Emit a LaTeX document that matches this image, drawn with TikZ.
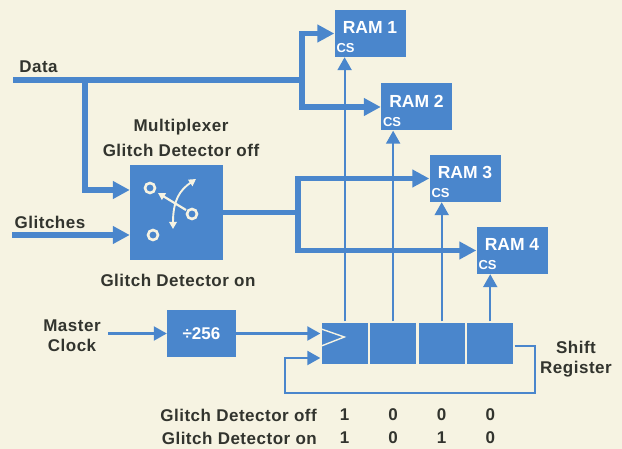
\documentclass[tikz,border=0pt]{standalone}
\usepackage{fontspec}
\setmainfont{Liberation Sans}
\usetikzlibrary{arrows.meta,positioning,calc}

\definecolor{hpblue}{RGB}{74,134,204}
\definecolor{paper}{RGB}{246,243,226}
\definecolor{ink}{RGB}{50,52,46}

\begin{document}
\begin{tikzpicture}[
    x=1pt,
    y=-1pt,
    blk/.style={fill=hpblue, inner sep=0pt},
    ram/.style={blk, minimum width=71pt, minimum height=47pt},
    cell/.style={blk, draw=paper, line width=1.3pt, minimum width=47.25pt, minimum height=43pt},
    bus/.style={hpblue, line width=5.5pt},
    busarrow/.style={bus, -{Triangle[length=17pt,width=17pt]}},
    wire/.style={hpblue, line width=2.2pt, -{Triangle[length=13pt,width=14pt]}},
    lbl/.style={text=ink, inner sep=0pt, font=\bfseries\fontsize{17}{20}\selectfont\addfontfeatures{LetterSpace=3}},
    ramtxt/.style={text=white, inner sep=0pt, font=\bfseries\fontsize{17.5}{20}\selectfont},
    cstxt/.style={text=white, inner sep=0pt, font=\bfseries\fontsize{13}{14}\selectfont},
    icon/.style={paper, line width=2.6pt}
]
\fill[paper] (0,0) rectangle (622,449);
\useasboundingbox (0,0) rectangle (622,449);

% RAM banks
\foreach \i/\cx/\cy in {1/370/33.5, 2/416.5/107, 3/465/178.5, 4/512/250.5}{
  \node[ram] (ram\i) at (\cx,\cy) {};
  \node[ramtxt] (ramt\i) at ([yshift=6pt]ram\i.center) {RAM \i};
  \node[cstxt, anchor=south west] (ramcs\i) at ([shift={(2pt,4pt)}]ram\i.south west) {CS};
}

% multiplexer and divider
\node[blk, minimum width=93pt, minimum height=95pt] (mux) at (176.5,212.5) {};
\node[blk, minimum width=69pt, minimum height=47pt, text=white,
      font=\bfseries\fontsize{17}{20}\selectfont] (div) at (201.5,333.5) {÷256};

% shift register
\node[cell] (c1) at (344.6,343.5) {};
\node[cell, right=0pt of c1] (c2) {};
\node[cell, right=0pt of c2] (c3) {};
\node[cell, right=0pt of c3] (c4) {};
\draw[paper, line width=1.4pt] (c1.west) ++(1,-14.5) -- ++(23,8) -- ++(-23,9);

% labels
\node[lbl] (datalbl) at (38.5,67) {Data};
\node[lbl] (gllbl) at (50,222) {Glitches};
\node[lbl] (muxlbl) at (181,127) {Multiplexer};
\node[lbl] (offtop) at (181,150) {Glitch Detector off};
\node[lbl] (ontop) at (178,280) {Glitch Detector on};
\node[lbl, align=center] (mclk) at (72,336) {Master\\Clock};
\node[lbl, align=center] (shreg) at (576,359) {Shift\\Register};

% data and glitch buses
\coordinate (datain) at (13,80);
\coordinate (dtap) at (85,80);
\coordinate (dsplit) at (302,80);
\coordinate (glin) at (12,235);
\coordinate (msplit) at (298,212.5);
\draw[bus] (datain) -- (dsplit);
\draw[busarrow] (dsplit) |- (ram1.west);
\draw[busarrow] (dsplit) |- (ram2.west);
\draw[busarrow] (dtap) |- ([yshift=22.5pt]mux.west);
\draw[busarrow] (glin) -- (glin -| mux.west);
\draw[bus] (mux.east) -- (msplit);
\draw[busarrow] (msplit) |- (ram3.west);
\draw[busarrow] (msplit) |- (ram4.west);

% chip selects
\foreach \i in {1,...,4}
  \draw[wire] (c\i.north) -- (c\i.north |- ram\i.south);

% clock and feedback
\coordinate (clkin) at (108,333.5);
\coordinate (fbr) at (535,393);
\coordinate (fbl) at (285,393);
\draw[wire] (clkin) -- (div.west);
\draw[wire] (div.east) -- (div.east -| c1.west);
\draw[wire] ([yshift=-2.5pt]c4.east) -| (fbr) -- (fbl) |- ([yshift=-14.5pt]c1.west);

% switch symbol
\draw[icon] (150,188) circle[radius=5pt];
\draw[icon] (192,214) circle[radius=5pt];
\draw[icon] (153,235) circle[radius=5pt];
\draw[icon, line width=2.2pt, -{Triangle[length=7pt,width=7.5pt]}] (186,210) -- (158,193);
\draw[icon, line width=1.9pt, {Triangle[length=7pt,width=7.5pt]}-{Triangle[length=7pt,width=7.5pt]}]
  (196,179) .. controls (180,190) and (173,200) .. (173,229);

% register contents
\node[lbl, anchor=east] (offlbl) at (317,415) {Glitch Detector off};
\node[lbl, anchor=east] (onlbl) at (317,438) {Glitch Detector on};
\foreach \i/\a/\b in {1/1/1, 2/0/0, 3/0/1, 4/0/0}{
  \node[lbl] (off\i) at (c\i |- offlbl) {\a};
  \node[lbl] (on\i) at (c\i |- onlbl) {\b};
}
\end{tikzpicture}
\end{document}
